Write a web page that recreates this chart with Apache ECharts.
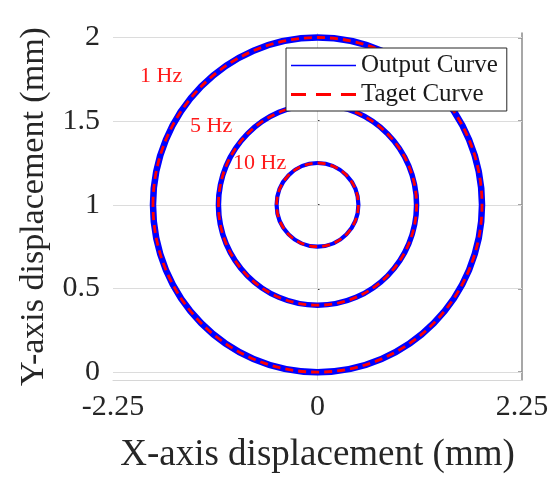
<!DOCTYPE html>
<html><head><meta charset="utf-8">
<script src="https://cdn.jsdelivr.net/npm/echarts@6/dist/echarts.min.js"></script>
<style>html,body{margin:0;padding:0;background:#fff}#c{width:553px;height:479px}</style>
</head><body><div id="c"></div>
<script>
// ---- data ----
const circleLabels = ['1 Hz', '5 Hz', '10 Hz'];
const centerX = [0, 0, 0];
const centerY = [1, 1, 1];
const outputRadiusX = [1.81, 1.09, 0.45];
const outputRadiusY = [1.0, 0.6, 0.25];
const targetRadiusX = [1.81, 1.09, 0.45];
const targetRadiusY = [1.0, 0.6, 0.25];
const xTicks = [-2.25, 0, 2.25];
const yTicks = [0, 0.5, 1, 1.5, 2];
const seriesNames = ['Output Curve', 'Taget Curve'];

// ---- styles ----
const serif = '"Liberation Serif", "Times New Roman", serif';
const outputWidths = [6.5, 5.5, 4.2];
const labelPos = [[140, 65], [190, 115], [233, 152]];

const outputData = centerX.map((c, i) => [c, centerY[i], outputRadiusX[i], outputRadiusY[i]]);
const targetData = centerX.map((c, i) => [c, centerY[i], targetRadiusX[i], targetRadiusY[i]]);

function ellipseItem(stroke, dash, widthFn) {
  return function (params, api) {
    const c = api.coord([api.value(0), api.value(1)]);
    const s = api.size([api.value(2), api.value(3)]);
    return {
      type: 'ellipse',
      shape: { cx: c[0], cy: c[1], rx: s[0], ry: s[1] },
      style: { fill: null, stroke: stroke, lineWidth: widthFn(params.dataIndex), lineDash: dash }
    };
  };
}

const chart = echarts.init(document.getElementById('c'), null, { renderer: 'canvas' });
chart.setOption({
  animation: false,
  backgroundColor: '#fff',
  grid: { left: 113, right: 31, top: 33, bottom: 96 },
  xAxis: {
    type: 'value', min: -2.25, max: 2.25, interval: 2.25,
    axisLine: { onZero: false, lineStyle: { color: '#d6d6d6', width: 1 } },
    axisTick: { show: false },
    splitLine: { show: false },
    axisLabel: { fontFamily: serif, fontSize: 30, color: '#262626', margin: 12, showMinLabel: true, showMaxLabel: true,
      formatter: v => String(v) },
    name: 'X-axis displacement (mm)', nameLocation: 'middle', nameGap: 57,
    nameTextStyle: { fontFamily: serif, fontSize: 37, color: '#262626' }
  },
  yAxis: [{
    type: 'value', min: -0.047, max: 2.027, position: 'left',
    axisLine: { show: false },
    axisTick: { show: true, inside: true, length: 2, customValues: yTicks, lineStyle: { color: '#444', width: 2 } },
    splitLine: { show: false },
    axisLabel: { customValues: yTicks, fontFamily: serif, fontSize: 30, color: '#262626', margin: 13 },
    name: 'Y-axis displacement (mm)', nameLocation: 'middle', nameGap: 62,
    nameTextStyle: { fontFamily: serif, fontSize: 34, color: '#262626' }
  }, {
    type: 'value', min: -0.047, max: 2.027, position: 'right',
    axisLine: { show: true, lineStyle: { color: '#8a8a8a', width: 1.5 } },
    axisTick: { show: true, inside: true, length: 4, customValues: yTicks, lineStyle: { color: '#8a8a8a', width: 1.5 } },
    axisLabel: { show: false },
    splitLine: { show: false }
  }],
  legend: {
    left: 286, top: 48, orient: 'vertical', z: 20,
    itemWidth: 65, itemHeight: 4, itemGap: 4,
    padding: [5, 9, 4, 5],
    borderColor: '#262626', borderWidth: 1, backgroundColor: '#fff',
    selectedMode: false,
    textStyle: { fontFamily: serif, fontSize: 25, lineHeight: 25, color: '#1a1a1a' },
    data: [
      { name: seriesNames[0], icon: 'path://M0,0M65,4M0,1.2h65v1.6h-65z', itemStyle: { color: '#0000ff' } },
      { name: seriesNames[1], icon: 'path://M0,0M65,4M0,0.6h15v2.8h-15zM25,0.6h15v2.8h-15zM50,0.6h15v2.8h-15z', itemStyle: { color: '#ff0000' } }
    ]
  },
  graphic: circleLabels.map((t, i) => ({
    type: 'text', left: labelPos[i][0], top: labelPos[i][1], z: 10,
    style: { text: t, fontFamily: serif, fontSize: 22, fill: '#ff1a1a' }
  })),
  series: [
    {
      type: 'line', data: [], z: 1, silent: true,
      markLine: {
        z: 1, symbol: 'none', silent: true, label: { show: false },
        emphasis: { disabled: true },
        lineStyle: { color: '#dcdcdc', width: 1, type: 'solid', opacity: 1 },
        data: yTicks.map(v => ({ yAxis: v })).concat([{ xAxis: 0 }])
      }
    },
    {
      name: seriesNames[0], type: 'custom', z: 3,
      itemStyle: { color: '#0000ff' },
      renderItem: ellipseItem('#0000ff', null, i => outputWidths[i]),
      data: outputData
    },
    {
      name: seriesNames[1], type: 'custom', z: 4,
      itemStyle: { color: '#ff0000' },
      renderItem: ellipseItem('#ff0000', [8, 5], () => 2.8),
      data: targetData
    }
  ]
});
</script></body></html>
